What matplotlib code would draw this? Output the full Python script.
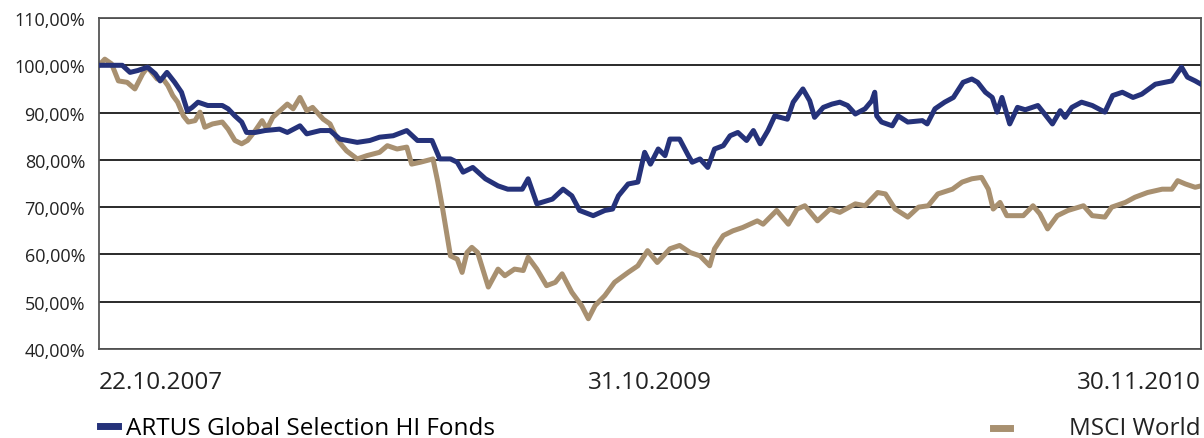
import matplotlib
matplotlib.use("Agg")
import matplotlib.pyplot as plt
from matplotlib.ticker import FuncFormatter
from matplotlib.lines import Line2D

plt.rcParams['font.family'] = ['Open Sans', 'DejaVu Sans']

# Tage seit 22.10.2007 (Start = 100 %)
artus_days = [0, 11, 24, 32, 40, 50, 58, 63, 70, 78, 85, 91, 96, 102, 112, 127, 133, 140, 147, 152,
              161, 171, 186, 194, 207, 214, 228, 238, 248, 266, 279, 289, 303, 317, 328, 343, 351, 362,
              369, 375, 385, 398, 411, 421, 436, 442, 451, 467, 478, 487, 495, 509, 521, 529, 535, 545,
              555, 562, 568, 576, 583, 588, 598, 607, 611, 619, 627, 634, 643, 650, 658, 667, 674, 681,
              689, 696, 709, 715, 725, 732, 737, 746, 755, 763, 771, 779, 789, 796, 799, 801, 806, 817,
              823, 833, 848, 853, 861, 871, 880, 890, 899, 905, 913, 920, 925, 930, 938, 946, 954, 967,
              974, 982, 990, 995, 1002, 1012, 1023, 1036, 1044, 1054, 1065, 1074, 1088, 1105, 1115,
              1121, 1129, 1135]
artus_vals = [100, 100, 100, 98.5, 98.9, 99.6, 98.2, 96.7, 98.5, 96.4, 94.3, 90.4, 91.1, 92.2, 91.5,
              91.5, 90.8, 89.3, 88.0, 85.8, 85.8, 86.2, 86.5, 85.8, 87.2, 85.5, 86.2, 86.2, 84.4, 83.7,
              84.1, 84.8, 85.1, 86.2, 84.1, 84.1, 80.2, 80.2, 79.5, 77.4, 78.4, 76.0, 74.5, 73.8, 73.8,
              76.0, 70.7, 71.7, 73.8, 72.4, 69.3, 68.2, 69.3, 69.6, 72.4, 74.9, 75.3, 81.6, 79.1, 82.3,
              80.9, 84.4, 84.4, 80.9, 79.5, 80.2, 78.4, 82.3, 83.0, 85.1, 85.8, 84.1, 86.2, 83.4, 86.2,
              89.3, 88.6, 92.2, 95.0, 92.5, 89.0, 91.1, 91.8, 92.2, 91.5, 89.7, 90.8, 92.5, 94.3, 89.3,
              88.0, 87.2, 89.3, 88.0, 88.3, 87.6, 90.8, 92.2, 93.2, 96.4, 97.1, 96.4, 94.3, 93.2, 90.1,
              93.2, 87.6, 91.1, 90.6, 91.5, 89.7, 87.6, 90.4, 89.0, 91.1, 92.2, 91.5, 90.1, 93.6, 94.3,
              93.2, 93.9, 96.0, 96.7, 99.6, 97.5, 96.7, 96.0]

msci_days = [0, 6, 13, 20, 29, 37, 45, 50, 60, 66, 71, 76, 81, 87, 92, 99, 104, 109, 117, 127, 133,
             140, 147, 153, 161, 168, 173, 179, 187, 194, 200, 207, 214, 220, 231, 238, 246, 255, 266,
             276, 289, 297, 307, 317, 322, 331, 344, 349, 354, 358, 362, 369, 374, 379, 384, 390, 401,
             411, 418, 428, 437, 442, 451, 461, 470, 477, 487, 497, 504, 511, 521, 531, 545, 555, 565,
             575, 588, 598, 609, 619, 629, 634, 643, 653, 663, 678, 684, 698, 710, 719, 727, 740, 753,
             763, 779, 789, 802, 810, 820, 833, 844, 854, 864, 879, 889, 899, 909, 916, 921, 928, 935,
             943, 952, 962, 969, 977, 987, 998, 1014, 1023, 1036, 1043, 1057, 1067, 1080, 1095, 1105,
             1111, 1119, 1129, 1135]
msci_vals = [100, 101.3, 100.3, 96.7, 96.4, 95.0, 98.2, 99.6, 97.1, 97.1, 95.7, 93.6, 92.2, 89.3, 88.0,
             88.3, 90.1, 86.9, 87.6, 88.0, 86.5, 84.1, 83.4, 84.1, 86.2, 88.3, 86.5, 89.0, 90.5, 91.8,
             90.8, 93.2, 90.4, 91.1, 88.6, 87.6, 84.1, 81.9, 80.2, 80.9, 81.6, 83.0, 82.3, 82.7, 79.1,
             79.5, 80.2, 75.3, 69.6, 64.7, 59.7, 59.0, 56.2, 60.4, 61.5, 60.4, 53.1, 56.9, 55.5, 56.9,
             56.6, 59.4, 56.9, 53.4, 54.1, 55.9, 52.0, 49.2, 46.4, 49.2, 51.3, 54.1, 56.2, 57.6, 60.8,
             58.3, 61.2, 61.9, 60.4, 59.7, 57.6, 61.2, 64.0, 65.0, 65.7, 67.1, 66.4, 69.3, 66.4, 69.6,
             70.3, 67.1, 69.6, 68.9, 70.7, 70.3, 73.1, 72.8, 69.6, 67.9, 70.0, 70.3, 72.8, 73.8, 75.3,
             76.0, 76.3, 73.8, 69.6, 71.0, 68.2, 68.2, 68.2, 70.3, 68.6, 65.4, 68.2, 69.3, 70.3, 68.2,
             67.9, 70.0, 71.0, 72.1, 73.1, 73.8, 73.8, 75.6, 74.9, 74.2, 74.5]

x_labels = ['22.10.2007', '31.10.2009', '30.11.2010']
names = ['ARTUS Global Selection HI Fonds', 'MSCI World']
c_artus = '#25327a'
c_msci = '#a89070'

fig = plt.figure(figsize=(12.04, 4.39), dpi=100)
ax = fig.add_axes([0.0822, 0.2027, 0.9153, 0.7540])

ax.plot(artus_days, artus_vals, color=c_artus, lw=3.6, solid_joinstyle='round', zorder=3)
ax.plot(msci_days, msci_vals, color=c_msci, lw=3.6, solid_joinstyle='round', zorder=2)

ax.set_ylim(40, 110)
ax.set_yticks(range(40, 111, 10))
ax.yaxis.set_major_formatter(FuncFormatter(lambda v, p: ('%.2f%%' % v).replace('.', ',')))
ax.grid(axis='y', color='#2a2a2a', lw=1.4)
ax.set_axisbelow(True)

end = artus_days[-1]
ax.set_xlim(0, end)
ax.set_xticks([0, end / 2, end])
ax.set_xticklabels(x_labels)
for lab, ha in zip(ax.get_xticklabels(), ['left', 'center', 'right']):
    lab.set_ha(ha)

ax.tick_params(axis='y', length=0, pad=10, labelsize=13, labelcolor='#222222')
ax.tick_params(axis='x', length=0, pad=15, labelsize=17.5, labelcolor='#222222')
for s in ax.spines.values():
    s.set_color('#555555')
    s.set_linewidth(1.3)

# Legende: links ARTUS, rechts MSCI (Text rechtsbündig)
ly = 0.022
h1 = Line2D([], [], color=c_artus, lw=5)
fig.legend([h1], [names[0]], loc='center left', bbox_to_anchor=(100 / 1204, ly), frameon=False,
           fontsize=17.5, handlelength=0.75, handletextpad=0.3, borderpad=0, borderaxespad=0)
fig.add_artist(Line2D([993 / 1204, 1010 / 1204], [ly, ly], transform=fig.transFigure,
                      color=c_msci, lw=5))
fig.text(1201 / 1204, ly, names[1], ha='right', va='center', fontsize=17.5, color='#222222')

fig.savefig('out.png', dpi=100)
